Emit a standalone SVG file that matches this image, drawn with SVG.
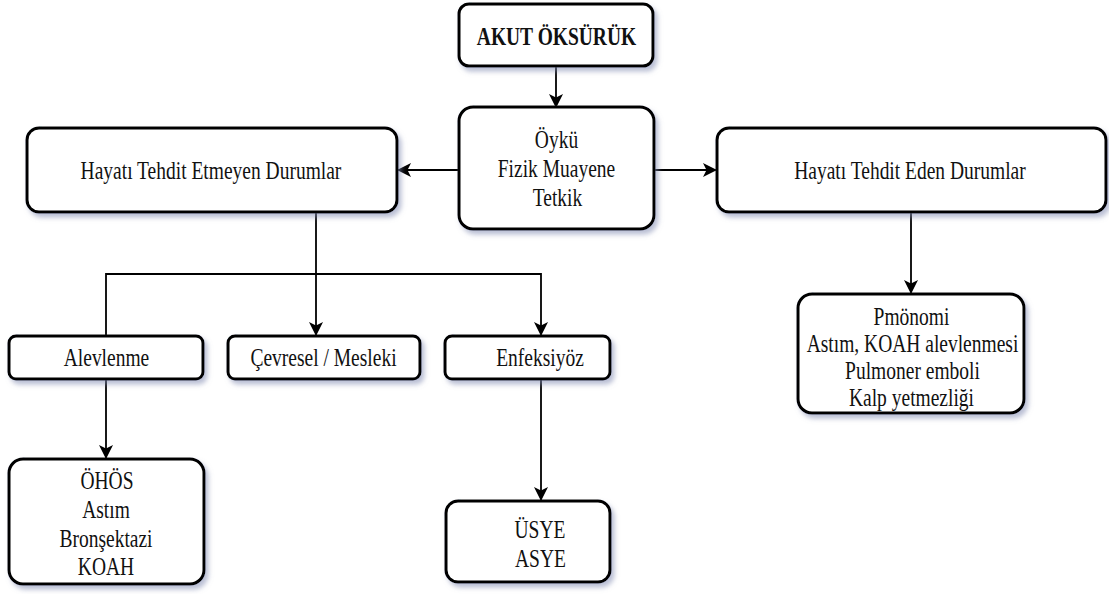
<svg xmlns="http://www.w3.org/2000/svg" width="1109" height="594" viewBox="0 0 1109 594">
<style>
.box{fill:#fff;stroke:#000;stroke-width:3;filter:url(#sh)}
text{font-family:"Liberation Serif",serif;font-size:25px;fill:#111;text-anchor:middle}
.b{font-weight:bold}
.c{fill:none;stroke:#000;stroke-width:1.8}
</style>
<defs>
<filter id="sh" x="-10%" y="-10%" width="130%" height="140%">
<feDropShadow dx="3" dy="4" stdDeviation="2.5" flood-color="#8088b0" flood-opacity="0.55"/>
</filter>
<marker id="ar" viewBox="0 0 14 14" refX="13" refY="7" markerWidth="14" markerHeight="14" markerUnits="userSpaceOnUse" orient="auto">
<path d="M0,0 L14,7 L0,14 L3.5,7 z" fill="#000"/>
</marker>
</defs>
<g id="connectors">
<path class="c" d="M556,66 V107" marker-end="url(#ar)"/>
<path class="c" d="M459,170 H398" marker-end="url(#ar)"/>
<path class="c" d="M654,170 H716" marker-end="url(#ar)"/>
<path class="c" d="M911,212 V293" marker-end="url(#ar)"/>
<path class="c" d="M316,212 V335" marker-end="url(#ar)"/>
<path class="c" d="M106,335 V274 H541 V335" marker-end="url(#ar)"/>
<path class="c" d="M106,379 V458" marker-end="url(#ar)"/>
<path class="c" d="M541,379 V500" marker-end="url(#ar)"/>
</g>
<g id="n-akut"><rect class="box" x="459" y="4" width="194" height="62" rx="10"/>
<g transform="scale(0.78 1)"><text class="b" x="713.46" y="45">AKUT ÖKSÜRÜK</text></g></g>
<g id="n-oyku"><rect class="box" x="459" y="107" width="195" height="122" rx="14"/>
<g transform="scale(0.78 1)"><text x="713.46" y="148">Öykü</text>
<text x="713.46" y="177">Fizik Muayene</text>
<text x="714.74" y="206">Tetkik</text></g></g>
<g id="n-etmeyen"><rect class="box" x="27" y="128" width="370" height="84" rx="12"/>
<g transform="scale(0.78 1)"><text x="270.51" y="179">Hayatı Tehdit Etmeyen Durumlar</text></g></g>
<g id="n-eden"><rect class="box" x="717" y="128" width="389" height="84" rx="12"/>
<g transform="scale(0.78 1)"><text x="1166.67" y="179">Hayatı Tehdit Eden Durumlar</text></g></g>
<g id="n-alev"><rect class="box" x="9" y="336" width="194" height="43" rx="7"/>
<g transform="scale(0.78 1)"><text x="136.54" y="366">Alevlenme</text></g></g>
<g id="n-cevre"><rect class="box" x="228" y="336" width="192" height="43" rx="7"/>
<g transform="scale(0.78 1)"><text x="414.74" y="366">Çevresel / Mesleki</text></g></g>
<g id="n-enf"><rect class="box" x="445" y="336" width="165" height="43" rx="7"/>
<g transform="scale(0.78 1)"><text x="692.31" y="366">Enfeksiyöz</text></g></g>
<g id="n-pmo"><rect class="box" x="798" y="294" width="226" height="119" rx="14"/>
<g transform="scale(0.78 1)"><text x="1168.59" y="325">Pmönomi</text>
<text x="1169.87" y="352">Astım, KOAH alevlenmesi</text>
<text x="1169.87" y="379">Pulmoner emboli</text>
<text x="1168.59" y="406">Kalp yetmezliği</text></g></g>
<g id="n-ohos"><rect class="box" x="9" y="459" width="195" height="125" rx="14"/>
<g transform="scale(0.78 1)"><text x="137.18" y="489">ÖHÖS</text>
<text x="135.90" y="518">Astım</text>
<text x="135.90" y="547">Bronşektazi</text>
<text x="135.90" y="575">KOAH</text></g></g>
<g id="n-usye"><rect class="box" x="446" y="501" width="164" height="81" rx="12"/>
<g transform="scale(0.78 1)"><text x="692.31" y="538">ÜSYE</text>
<text x="692.95" y="567">ASYE</text></g></g>
</svg>
